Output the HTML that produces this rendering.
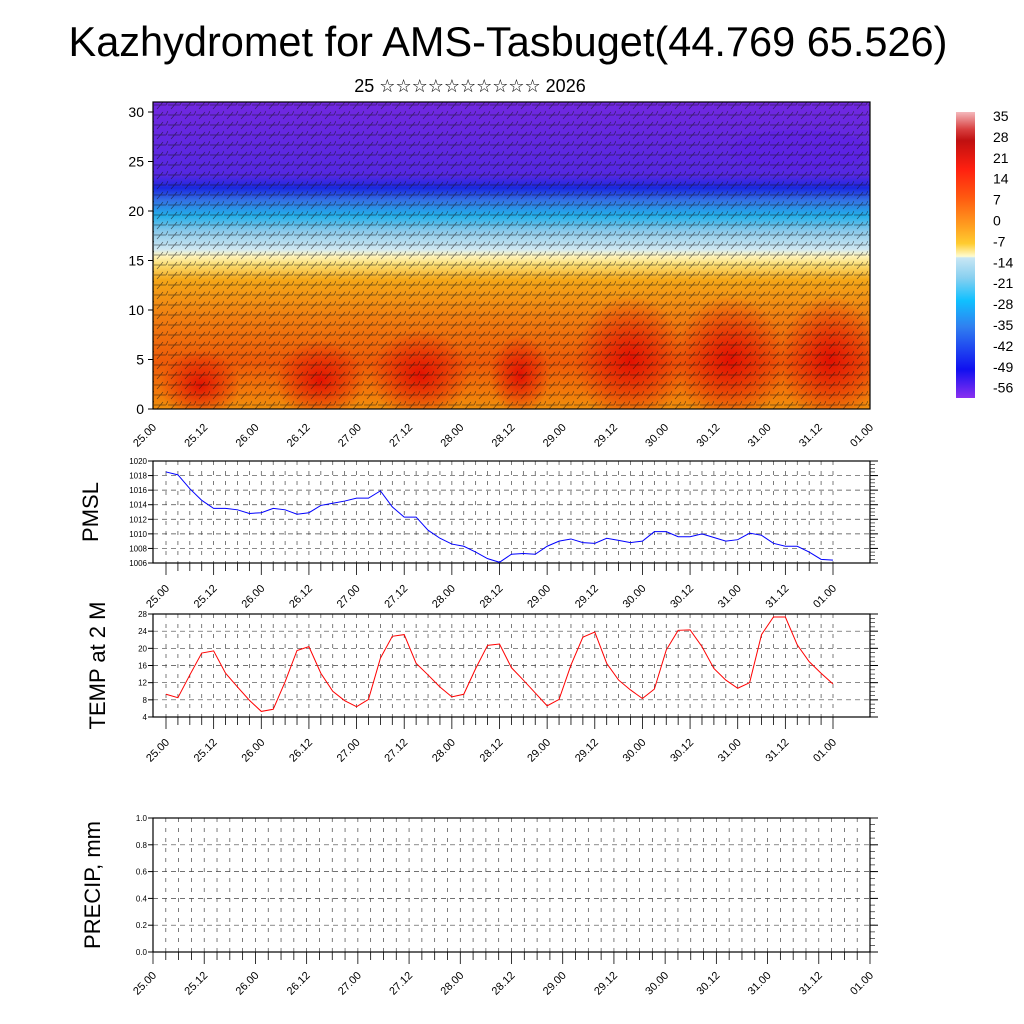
<!DOCTYPE html>
<html><head><meta charset="utf-8">
<style>
html,body{margin:0;padding:0;background:#fff}
svg{display:block;font-family:"Liberation Sans","DejaVu Sans",sans-serif}
</style></head>
<body>
<svg id="chart" width="1024" height="1024" viewBox="0 0 1024 1024">
<defs>
<linearGradient id="tgrad" x1="0" y1="1" x2="0" y2="0">
<stop offset="0" stop-color="#f0900c"/>
<stop offset="0.05" stop-color="#f27a0a"/>
<stop offset="0.15" stop-color="#ee5a08"/>
<stop offset="0.3" stop-color="#f07e10"/>
<stop offset="0.42" stop-color="#f4a618"/>
<stop offset="0.47" stop-color="#fbdc70"/>
<stop offset="0.5" stop-color="#fff5c0"/>
<stop offset="0.52" stop-color="#d0e8f2"/>
<stop offset="0.58" stop-color="#88c8ea"/>
<stop offset="0.63" stop-color="#22aeea"/>
<stop offset="0.68" stop-color="#3470e4"/>
<stop offset="0.72" stop-color="#1a28e0"/>
<stop offset="0.76" stop-color="#5428e2"/>
<stop offset="1" stop-color="#7228e0"/>
</linearGradient>
<linearGradient id="cbgrad" x1="0" y1="0" x2="0" y2="1">
<stop offset="0" stop-color="#f4b8bc"/>
<stop offset="0.06" stop-color="#d84040"/>
<stop offset="0.1" stop-color="#c01010"/>
<stop offset="0.2" stop-color="#ff2010"/>
<stop offset="0.3" stop-color="#ff5a10"/>
<stop offset="0.4" stop-color="#ffa020"/>
<stop offset="0.46" stop-color="#ffcc30"/>
<stop offset="0.505" stop-color="#fffcd0"/>
<stop offset="0.51" stop-color="#c8e6f4"/>
<stop offset="0.58" stop-color="#88d0f0"/>
<stop offset="0.66" stop-color="#10c0ff"/>
<stop offset="0.75" stop-color="#3080f0"/>
<stop offset="0.9" stop-color="#1010f0"/>
<stop offset="1" stop-color="#8a30f0"/>
</linearGradient>
<radialGradient id="hot"><stop offset="0" stop-color="#e00800" stop-opacity="0.9"/><stop offset="1" stop-color="#e00800" stop-opacity="0"/></radialGradient>
<pattern id="barbs" width="14" height="10" patternUnits="userSpaceOnUse">
<path d="M0 5 L12 5 M12 5 L14 1 M3 9 L9 2" stroke="#111" stroke-width="0.7" fill="none" opacity="0.6"/>
</pattern>
<clipPath id="topclip"><rect x="153" y="102" width="717" height="307"/></clipPath>
</defs>

<text x="508" y="56" text-anchor="middle" font-size="41.5">Kazhydromet for AMS-Tasbuget(44.769 65.526)</text>
<text x="470" y="92" text-anchor="middle" font-size="18">25 ☆☆☆☆☆☆☆☆☆☆ 2026</text>

<g id="top">
<g clip-path="url(#topclip)">
<rect x="153" y="102" width="717" height="307" fill="url(#tgrad)"/>
<ellipse cx="200" cy="385" rx="40" ry="35" fill="url(#hot)"/>
<ellipse cx="320" cy="380" rx="45" ry="40" fill="url(#hot)"/>
<ellipse cx="420" cy="375" rx="50" ry="45" fill="url(#hot)"/>
<ellipse cx="520" cy="375" rx="30" ry="40" fill="url(#hot)"/>
<ellipse cx="630" cy="360" rx="55" ry="65" fill="url(#hot)"/>
<ellipse cx="730" cy="360" rx="55" ry="65" fill="url(#hot)"/>
<ellipse cx="830" cy="360" rx="50" ry="65" fill="url(#hot)"/>
<ellipse cx="800" cy="150" rx="70" ry="20" fill="#5b1ee6" opacity="0.5"/>
<rect x="153" y="102" width="717" height="307" fill="url(#barbs)"/>
</g>
<rect x="153" y="102" width="717" height="307" fill="none" stroke="#000" stroke-width="1.2"/>
</g>
<g id="topaxes"></g>

<g>
<rect x="956" y="112" width="19" height="286" fill="url(#cbgrad)"/>
<g id="cblabels" font-size="14"></g>
</g>

<g id="pmsl"></g>
<g id="temp"></g>
<g id="precip"></g>
</svg>
<script>
const timeLabels=["25.00","25.12","26.00","26.12","27.00","27.12","28.00","28.12","29.00","29.12","30.00","30.12","31.00","31.12","01.00"];
const heightTicks=[0,5,10,15,20,25,30];
const cbLabels=[35,28,21,14,7,0,-7,-14,-21,-28,-35,-42,-49,-56];
const pmslTicks=[1006,1008,1010,1012,1014,1016,1018,1020];
const pmslValues=[1018.5,1018.1,1016.2,1014.6,1013.5,1013.5,1013.3,1012.8,1012.9,1013.5,1013.3,1012.7,1012.9,1013.9,1014.2,1014.5,1014.9,1014.9,1015.9,1013.7,1012.3,1012.3,1010.5,1009.4,1008.6,1008.3,1007.5,1006.6,1006.1,1007.2,1007.3,1007.2,1008.3,1009.0,1009.3,1008.8,1008.7,1009.4,1009.1,1008.8,1009.0,1010.3,1010.3,1009.6,1009.6,1010.0,1009.5,1009.0,1009.2,1010.1,1009.8,1008.7,1008.3,1008.3,1007.5,1006.5,1006.4];
const tempTicks=[4,8,12,16,20,24,28];
const tempValues=[9.3,8.5,13.8,18.9,19.4,14.2,11.0,7.9,5.3,5.8,12.2,19.5,20.4,14.2,10.0,7.8,6.4,8.1,17.7,22.8,23.2,16.5,13.8,11.0,8.7,9.3,15.3,20.7,21.0,15.5,12.6,9.6,6.6,8.1,16.1,22.6,23.8,16.5,12.6,10.3,8.3,10.5,19.6,24.2,24.3,20.4,15.3,12.6,10.7,12.0,23.2,27.3,27.3,20.8,16.9,14.2,11.7];
const precipTicks=[0.0,0.2,0.4,0.6,0.8,1.0];

const NS="http://www.w3.org/2000/svg";
function mk(tag,attrs,parent){const e=document.createElementNS(NS,tag);for(const k in attrs)e.setAttribute(k,attrs[k]);parent.appendChild(e);return e;}

const topG=document.getElementById('topaxes');
const topY=v=>409-v*9.9;
const topX=i=>153+i*(717/14);
heightTicks.forEach(v=>{
  const y=topY(v);
  const l=mk('line',{x1:148,x2:153,y1:y,y2:y,stroke:'#000'},topG);
  
  
  const t=mk('text',{x:144,y:y+5,'text-anchor':'end','font-size':14},topG);
  t.textContent=v;
  
  
});
function xLabels(g,xf,y0){
  timeLabels.forEach((s,i)=>{
    const x=xf(i);
    const t=mk('text',{x:x+4,y:y0,'text-anchor':'end','font-size':11,transform:`rotate(-45 ${x+4} ${y0})`},g);
    t.textContent=s;
    
    
  });
}
xLabels(topG,topX,428);

const cb=document.getElementById('cblabels');
cbLabels.forEach((v,i)=>{
  const t=mk('text',{x:993,y:121+i*20.9},cb);
  t.textContent=v;
  
  
});

function panel(id,top,bot,ticks,lo,hi,vals,color,title,titleX,dataX0,dataX1,nPts,labelX,fmt){
  const g=document.getElementById(id);
  const L=153,R=870;
  const y=v=>bot-(v-lo)/(hi-lo)*(bot-top);
  const x=i=>dataX0+i*(dataX1-dataX0)/(nPts-1);
  for(let i=0;i<nPts;i++){
    const xx=x(i);
    if(xx>L+1&&xx<R-1){
      const d=mk('line',{x1:xx,x2:xx,y1:top,y2:bot,stroke:'#444','stroke-width':0.7,'stroke-dasharray':'4,6'},g);
      
      
    }
    const tk=mk('line',{x1:xx,x2:xx,y1:bot,y2:bot+(i%4===0?12:8),stroke:'#000','stroke-width':0.8},g);
    
    
  }
  ticks.forEach(v=>{
    const yy=y(v);
    if(v!==lo&&v!==hi){
      const h=mk('line',{x1:L,x2:R,y1:yy,y2:yy,stroke:'#444','stroke-width':0.7,'stroke-dasharray':'5,4'},g);
      
      
    }
    mk('line',{x1:L-5,x2:L,y1:yy,y2:yy,stroke:'#000'},g);
    mk('line',{x1:R,x2:R+8,y1:yy,y2:yy,stroke:'#000'},g);
    const t=mk('text',{x:L-6,y:yy+3,'text-anchor':'end','font-size':8},g);
    t.textContent=fmt?v.toFixed(1):v;
    
    
  });
  const step=(ticks[1]-ticks[0])/4;
  for(let v=lo;v<=hi+1e-9;v+=step){
    mk('line',{x1:R,x2:R+5,y1:y(v),y2:y(v),stroke:'#000','stroke-width':0.6},g);
  }
  mk('rect',{x:L,y:top,width:R-L,height:bot-top,fill:'none',stroke:'#000','stroke-width':1.2},g);
  if(vals){
    const p=mk('polyline',{points:vals.map((v,i)=>x(i)+','+y(v)).join(' '),fill:'none',stroke:color,'stroke-width':1},g);
    
    
  }
  const ty=(top+bot)/2;
  const tt=mk('text',{x:titleX,y:ty,'text-anchor':'middle','font-size':22,transform:`rotate(-90 ${titleX} ${ty})`},g);
  tt.textContent=title;
  
  
  xLabels(g,labelX,bot+(id==='precip'?24:26));
}
const lx=i=>166+i*(833-166)/14;
panel('pmsl',461,563,pmslTicks,1006,1020,pmslValues,'#0000ff','PMSL',98,166,833,57,lx,false);
panel('temp',614,717,tempTicks,4,28,tempValues,'#ff0000','TEMP at 2 M',105,166,833,57,lx,false);
panel('precip',818,952,precipTicks,0,1,null,'#000','PRECIP, mm',100,153,870,57,topX,true);
</script>
</body></html>
